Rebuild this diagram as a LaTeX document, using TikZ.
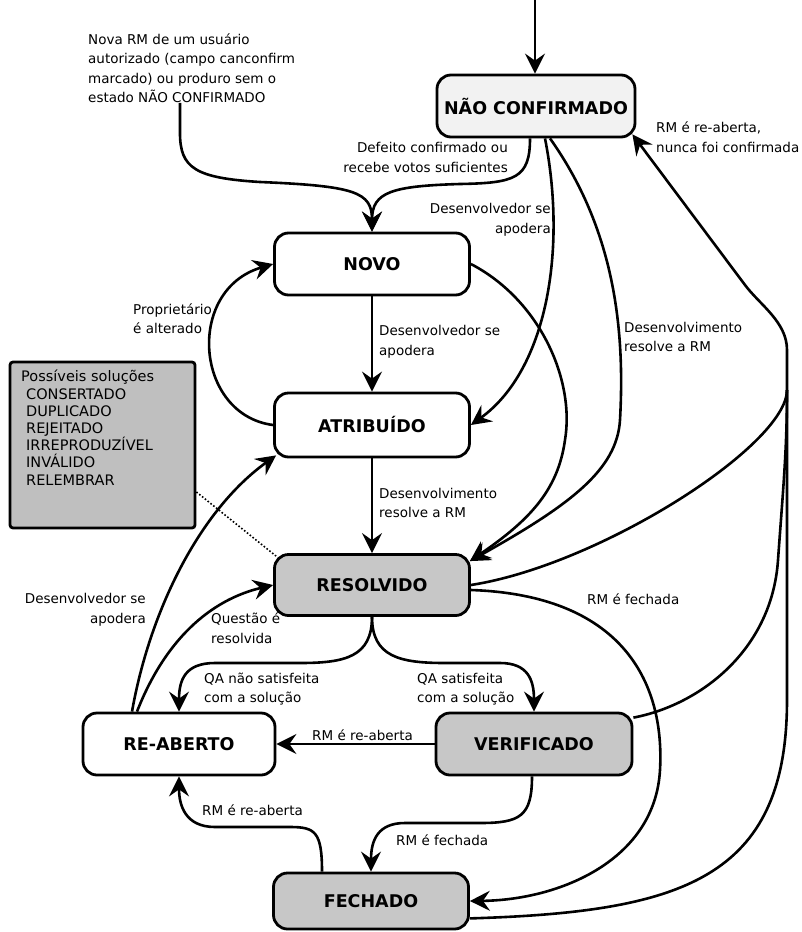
\documentclass[tikz,border=0pt]{standalone}
\usepackage{fontspec}
\setmainfont{DejaVu Sans}
\usetikzlibrary{arrows.meta}
\begin{document}
\begin{tikzpicture}[x=1pt,y=-1pt,
  state/.style={draw, line width=2.8pt, rounded corners=14pt, minimum width=195pt,
    minimum height=62pt, inner sep=0pt, font=\fontsize{17.5}{20}\selectfont\bfseries},
  plainstate/.style={state, fill=white},
  lightstate/.style={state, fill=black!5},
  shadedstate/.style={state, fill=black!22},
  line/.style={line width=2.6pt},
  conn/.style={line, -{Stealth[length=20pt,width=20pt,inset=7pt]}},
  lbl/.style={font=\fontsize{13.5}{19.5}\selectfont, inner sep=0pt},
]
\useasboundingbox (0,0) rectangle (801,932);

% states
\node[lightstate, minimum width=198pt] (nc) at (536,106) {NÃO CONFIRMADO};
\node[plainstate] (novo) at (372,264) {NOVO};
\node[plainstate, minimum height=64pt] (atr) at (372,425) {ATRIBUÍDO};
\node[shadedstate, minimum height=61pt] (res) at (372,585) {RESOLVIDO};
\node[plainstate, minimum width=192pt] (reab) at (179,744) {RE-ABERTO};
\node[shadedstate, minimum width=196pt] (ver) at (534,744) {VERIFICADO};
\node[shadedstate, minimum height=56pt] (fech) at (371,901) {FECHADO};

% list of resolutions
\node[draw, line width=2.8pt, fill=black!25, rounded corners=3pt, minimum width=185pt,
  minimum height=166pt, inner sep=0pt] (sol) at (102.5,445) {};
\node[anchor=north west, align=left, font=\fontsize{14.5}{17.2}\selectfont, inner sep=0pt]
  (soltxt) at (21,370) {Possíveis soluções\\\hspace{5pt}CONSERTADO\\\hspace{5pt}DUPLICADO\\
  \hspace{5pt}REJEITADO\\\hspace{5pt}IRREPRODUZÍVEL\\\hspace{5pt}INVÁLIDO\\\hspace{5pt}RELEMBRAR};
\draw[line width=1.6pt, dotted] ([yshift=-47pt]sol.east) -- ([xshift=3pt,yshift=-3pt]res.north west);

% entry
\coordinate (entry) at (535,0);
\draw[conn] (entry) -- (entry |- nc.north);

% new report note
\node[lbl, align=left, anchor=west] (nova) at (88,68)
  {Nova RM de um usuário\\autorizado (campo canconfirm\\marcado) ou produro sem o\\estado NÃO CONFIRMADO};
\coordinate (novax) at (180,0);
\draw[conn] (nova.south -| novax) -- ++(0,30) .. controls +(0,35) and (195,178) .. (260,182)
  .. controls (355,186) and (372,192) .. (novo.north);

% NAO CONFIRMADO -> NOVO
\draw[conn] ([xshift=-6pt]nc.south) .. controls +(0,40) and (515,183) .. (460,184)
  .. controls (392,186) and (372,192) .. (novo.north);
\node[lbl, align=right, anchor=east] at (508,157.5) {Defeito confirmado ou\\recebe votos suficientes};

% NAO CONFIRMADO -> ATRIBUIDO
\draw[conn] ([xshift=9pt]nc.south) .. controls (567,250) and (547,370) .. (atr.east);
\node[lbl, align=right, anchor=east] at (551,220) {Desenvolvedor se\\apodera};

% NAO CONFIRMADO -> RESOLVIDO
\draw[conn] ([xshift=14pt]nc.south) .. controls (615,230) and (625,330) .. (620,420)
  .. controls (617,470) and (570,505) .. ([xshift=-1pt,yshift=-8pt]res.north east);
\node[lbl, align=left, anchor=west] at (624,337) {Desenvolvimento\\resolve a RM};

% NOVO -> RESOLVIDO
\draw[conn] (novo.east) .. controls (540,300) and (575,380) .. (565,440)
  .. controls (558,490) and (530,520) .. ([xshift=-1pt,yshift=-8pt]res.north east);

% reopened, never confirmed: one shared trunk into NAO CONFIRMADO
\coordinate (join) at (787,390);
\draw[conn] (res.east) .. controls (600,565) and (787,445) .. (join) -- (787,350)
  .. controls (787,322) and (760,305) .. (745,285) -- ([xshift=-4pt,yshift=4pt]nc.south east);
\draw[line] ([yshift=-6pt]ver.north east) .. controls (700,705) and (772,650) .. (778,560)
  .. controls (783,490) and (787,450) .. (join);
\draw[line] ([yshift=12pt]fech.south east) .. controls (680,912) and (787,880) .. (787,700) -- (join);
\node[lbl, align=left, anchor=west] at (656,137) {RM é re-aberta,\\nunca foi confirmada};

% RESOLVIDO -> FECHADO
\draw[conn] ([yshift=-5pt]res.east) .. controls (620,595) and (665,680) .. (660,770)
  .. controls (655,860) and (560,900) .. (fech.east);
\node[lbl, anchor=west] at (587,599) {RM é fechada};

% NOVO -> ATRIBUIDO -> RESOLVIDO
\draw[conn] (novo.south) -- (atr.north);
\node[lbl, align=left, anchor=west] at (379,342) {Desenvolvedor se\\apodera};
\draw[conn] (atr.south) -- (res.north);
\node[lbl, align=left, anchor=west] at (379,503) {Desenvolvimento\\resolve a RM};

% ATRIBUIDO -> NOVO
\draw[conn] (atr.west) .. controls (195,415) and (185,290) .. (novo.west);
\node[lbl, align=left, anchor=west] at (133,318.5) {Proprietário\\é alterado};

% RESOLVIDO -> RE-ABERTO / VERIFICADO
\draw[conn] (res.south) .. controls +(0,40) and (345,663) .. (300,663) -- (215,663)
  .. controls (185,663) and (179,680) .. (reab.north);
\draw[conn] (res.south) .. controls +(0,40) and (400,663) .. (445,663) -- (500,663)
  .. controls (528,663) and (534,680) .. (ver.north);
\node[lbl, align=left, anchor=west] at (204,689) {QA não satisfeita\\com a solução};
\node[lbl, align=left, anchor=west] at (417,689) {QA satisfeita\\com a solução};

% VERIFICADO -> RE-ABERTO
\draw[conn] (ver.west) -- (reab.east);
\node[lbl, anchor=west] at (312,735) {RM é re-aberta};

% VERIFICADO -> FECHADO
\draw[conn] ([xshift=-2pt]ver.south) .. controls +(0,40) and (520,823) .. (480,823) -- (405,823)
  .. controls (378,823) and (371,840) .. (fech.north);
\node[lbl, anchor=west] at (396,840) {RM é fechada};

% FECHADO -> RE-ABERTO
\draw[conn] ([xshift=-49pt]fech.north) .. controls +(0,-40) and (315,827) .. (290,827) -- (215,827)
  .. controls (185,827) and (179,805) .. (reab.south);
\node[lbl, anchor=west] at (202,810) {RM é re-aberta};

% RE-ABERTO -> ATRIBUIDO / RESOLVIDO
\draw[conn] ([xshift=-47pt]reab.north) .. controls (150,610) and (200,510) .. ([xshift=3pt,yshift=3pt]atr.south west);
\node[lbl, align=right, anchor=east] at (146,610) {Desenvolvedor se\\apodera};
\draw[conn] ([xshift=-42pt]reab.north) .. controls (165,640) and (210,600) .. (res.west);
\node[lbl, align=left, anchor=west] at (211,628) {Questão é\\resolvida};
\end{tikzpicture}
\end{document}
